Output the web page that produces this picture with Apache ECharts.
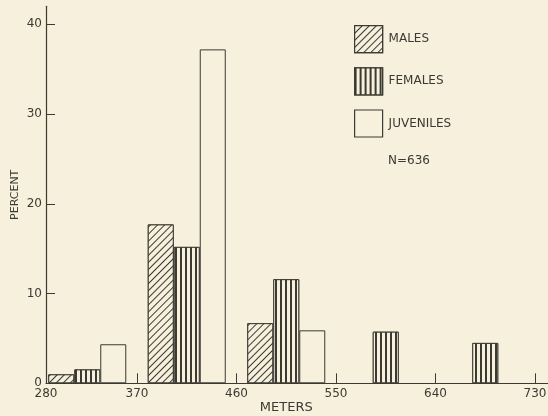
<!DOCTYPE html>
<html>
<head>
<meta charset="utf-8">
<script src="https://cdn.jsdelivr.net/npm/echarts@6/dist/echarts.min.js"></script>
<style>
html,body{margin:0;padding:0;background:#f6f0dc;}
#chart{width:548px;height:416px;}
</style>
</head>
<body>
<div id="chart"></div>
<script>
// bin midpoints (meters); bins are 280-370, 370-460, 460-550, 550-640, 640-730
var binMid = [325, 415, 505, 595, 685];
var males = [1.0, 17.7, 6.7, null, null];
var females = [1.55, 15.2, 11.6, 5.75, 4.5];
var juveniles = [4.35, 37.2, 5.9, null, null];
var xTicks = [280, 370, 460, 550, 640, 730];
var yTicks = [0, 10, 20, 30, 40];
var seriesNames = ['MALES', 'FEMALES', 'JUVENILES'];
var sampleNote = 'N=636';

var INK = '#3b3a33';
var BG = '#f6f0dc';
var FONT = 'DejaVu Sans';

function pairs(vals) {
  var out = [];
  for (var i = 0; i < vals.length; i++) {
    if (vals[i] != null) out.push([binMid[i], vals[i]]);
  }
  return out;
}

var chart = echarts.init(document.getElementById('chart'), null, {renderer: 'canvas'});
var gTop = 6.3, gBottom = 32.7, gRight = 13;
var option = {
  backgroundColor: BG,
  animation: false,
  textStyle: {fontFamily: FONT, color: INK},
  title: {
    text: sampleNote,
    left: 388, top: 155,
    padding: 0,
    textStyle: {fontFamily: FONT, fontSize: 12, fontWeight: 'normal', color: INK}
  },
  legend: {
    orient: 'vertical',
    left: 354, top: 25,
    padding: 0,
    itemWidth: 28, itemHeight: 27, itemGap: 14,
    icon: 'rect',
    itemStyle: {borderWidth: 1.2},
    textStyle: {fontFamily: FONT, fontSize: 12, color: INK, padding: [0, 0, 0, 1]},
    data: seriesNames
  },
  grid: [
    {left: 37.5, right: gRight, top: gTop, bottom: gBottom, outerBoundsMode: 'none', containLabel: false},
    {left: 46, right: 0, top: gTop, bottom: gBottom, outerBoundsMode: 'none', containLabel: false}
  ],
  xAxis: [
    {
      gridIndex: 0, type: 'value', min: xTicks[0], max: xTicks[xTicks.length - 1], interval: 90,
      axisLine: {show: false},
      axisTick: {show: true, inside: true, length: 10, lineStyle: {color: INK, width: 1}, customValues: xTicks.slice(1)},
      axisLabel: {fontFamily: FONT, fontSize: 12, color: INK, margin: 5, customValues: xTicks.slice(1)},
      splitLine: {show: false},
      name: 'METERS', nameLocation: 'middle', nameGap: 18, nameMoveOverlap: false,
      nameTextStyle: {fontFamily: FONT, fontSize: 13, color: INK}
    },
    {
      gridIndex: 1, type: 'value', min: xTicks[0], max: 750,
      axisLine: {show: true, lineStyle: {color: INK, width: 1.2}},
      axisTick: {show: false},
      axisLabel: {fontFamily: FONT, fontSize: 12, color: INK, margin: 5, customValues: [xTicks[0]]},
      splitLine: {show: false}
    }
  ],
  yAxis: [
    {gridIndex: 0, type: 'value', min: 0, max: 42, show: false, splitLine: {show: false}},
    {
      gridIndex: 1, type: 'value', min: 0, max: 42,
      axisLine: {show: true, lineStyle: {color: INK, width: 1.2}},
      axisTick: {show: true, inside: true, length: 9, lineStyle: {color: INK, width: 1}, customValues: yTicks},
      axisLabel: {fontFamily: FONT, fontSize: 12, color: INK, margin: 4, customValues: yTicks},
      splitLine: {show: false},
      name: 'PERCENT', nameLocation: 'middle', nameGap: 25, nameMoveOverlap: false,
      nameTextStyle: {fontFamily: FONT, fontSize: 11, color: INK}
    }
  ],
  series: [
    {
      name: seriesNames[0], type: 'bar', xAxisIndex: 0, yAxisIndex: 0,
      barWidth: 26, barGap: '0%',
      data: pairs(males),
      itemStyle: {
        color: BG, borderColor: INK, borderWidth: 1,
        decal: {symbol: 'rect', symbolSize: 1, dashArrayX: [1, 0], dashArrayY: [1, 3.2],
                rotation: -Math.PI / 4, color: INK, backgroundColor: BG}
      }
    },
    {
      name: seriesNames[1], type: 'bar', xAxisIndex: 0, yAxisIndex: 0,
      barWidth: 26, barGap: '0%',
      data: pairs(females),
      itemStyle: {
        color: BG, borderColor: INK, borderWidth: 1,
        decal: {symbol: 'rect', symbolSize: 1, dashArrayX: [2, 3], dashArrayY: [1, 0],
                rotation: 0, color: INK, backgroundColor: BG}
      }
    },
    {
      name: seriesNames[2], type: 'bar', xAxisIndex: 0, yAxisIndex: 0,
      barWidth: 26, barGap: '0%',
      data: pairs(juveniles),
      itemStyle: {color: BG, borderColor: INK, borderWidth: 1}
    }
  ]
};
chart.setOption(option);
</script>
</body>
</html>
